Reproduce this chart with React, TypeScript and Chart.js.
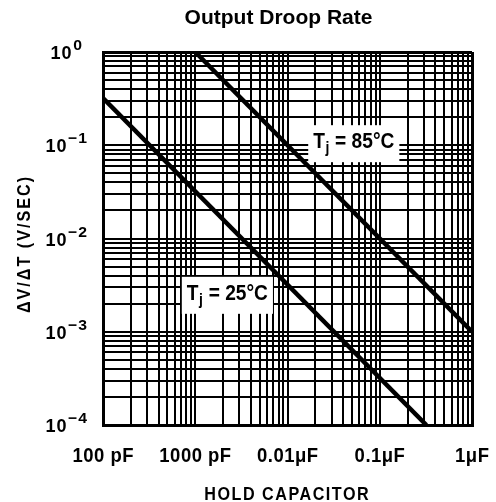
import React, { useEffect, useRef } from "react";
import { Chart, registerables } from "chart.js";

Chart.register(...registerables);

// ---- data ----
const capacitance25 = [1e-10, 3.2e-7]; // farads
const droop25 = [0.32, 1e-4]; // V/s
const capacitance85 = [1e-9, 1e-6];
const droop85 = [1, 1e-3];

const xTickValues = [1e-10, 1e-9, 1e-8, 1e-7, 1e-6];
const xTickLabels = ["100 pF", "1000 pF", "0.01μF", "0.1μF", "1μF"];
const yTickValues = [1, 0.1, 0.01, 0.001, 0.0001];
const yTickExponents = ["0", "−1", "−2", "−3", "−4"];
const gridMultipliers = [1, 2, 3, 4, 5, 6, 7, 8, 9];

const X_MIN = 1e-10;
const X_MAX = 1e-6;
const Y_MIN = 1e-4;
const Y_MAX = 1;

const SANS = '"Liberation Sans", Arial, sans-serif';

function gridTicks(values: number[]) {
  const sorted = [...values].sort((a, b) => a - b);
  const out: { value: number }[] = [];
  for (let i = 0; i < sorted.length - 1; i++) {
    for (const m of gridMultipliers) out.push({ value: m * sorted[i] });
  }
  out.push({ value: sorted[sorted.length - 1] });
  return out;
}

function measure(ctx: CanvasRenderingContext2D, text: string, size: number, scaleX: number, spacing = 0) {
  ctx.save();
  ctx.font = `bold ${size}px ${SANS}`;
  (ctx as any).letterSpacing = `${spacing / scaleX}px`;
  const w = ctx.measureText(text).width * scaleX - spacing;
  ctx.restore();
  return w;
}

function drawText(
  ctx: CanvasRenderingContext2D,
  text: string,
  x: number,
  y: number,
  size: number,
  scaleX: number,
  align: "left" | "center" | "right" = "left",
  spacing = 0
) {
  const w = measure(ctx, text, size, scaleX, spacing);
  const left = align === "center" ? x - w / 2 : align === "right" ? x - w : x;
  ctx.save();
  ctx.font = `bold ${size}px ${SANS}`;
  (ctx as any).letterSpacing = `${spacing / scaleX}px`;
  ctx.textAlign = "left";
  ctx.textBaseline = "alphabetic";
  ctx.translate(left, y);
  ctx.scale(scaleX, 1);
  ctx.fillText(text, 0, 0);
  ctx.restore();
  return w;
}

const labelPlugin = {
  id: "droopLabels",
  afterDraw(chart: any) {
    const ctx: CanvasRenderingContext2D = chart.ctx;
    const xs = chart.scales.x;
    const ys = chart.scales.y;
    const area = chart.chartArea;
    ctx.save();
    ctx.fillStyle = "#000";

    // title
    drawText(ctx, "Output Droop Rate", (area.left + area.right) / 2 - 9, 24, 21, 1, "center");

    // x tick labels
    xTickValues.forEach((v, i) => {
      drawText(ctx, xTickLabels[i], xs.getPixelForValue(v), area.bottom + 37, 21, 0.88, "center", 0.5);
    });

    // y tick labels
    yTickValues.forEach((v, i) => {
      const y = ys.getPixelForValue(v);
      const w1 = measure(ctx, "10", 19, 0.95, 1);
      const w2 = measure(ctx, yTickExponents[i], 15, 1.05, 1);
      const start = 66 - (w1 + w2 + 1) / 2;
      drawText(ctx, "10", start, y + 7, 19, 0.95, "left", 1);
      drawText(ctx, yTickExponents[i], start + w1 + 1.5, y - 2, 15, 1.05, "left", 1);
    });

    // axis titles
    drawText(ctx, "HOLD CAPACITOR", (area.left + area.right) / 2 - 1, 500, 19, 0.85, "center", 1.5);
    ctx.save();
    ctx.translate(30, 245);
    ctx.rotate(-Math.PI / 2);
    drawText(ctx, "ΔV/ΔT (V/SEC)", 0, 0, 19, 0.85, "center", 2);
    ctx.restore();

    // curve labels
    const drawLabel = (xv: number, yv: number, temp: string) => {
      const x0 = xs.getPixelForValue(xv);
      const base = ys.getPixelForValue(yv);
      const sx = 0.87;
      const wT = measure(ctx, "T", 22, sx);
      const wj = measure(ctx, "j", 16, sx);
      const rest = ` = ${temp}°C`;
      const wr = measure(ctx, rest, 22, sx);
      const total = wT + wj + wr + 1;
      ctx.fillStyle = "#fff";
      ctx.fillRect(x0 - 5, base - 23, total + 10, 37);
      ctx.fillStyle = "#000";
      drawText(ctx, "T", x0, base, 22, sx);
      drawText(ctx, "j", x0 + wT + 0.5, base + 5, 16, sx);
      drawText(ctx, rest, x0 + wT + wj + 1, base, 22, sx);
    };
    drawLabel(1.9e-8, 0.093, "85");
    drawLabel(8.1e-10, 2.2e-3, "25");

    ctx.restore();
  },
};

export default function App() {
  const ref = useRef<HTMLCanvasElement | null>(null);

  useEffect(() => {
    if (!ref.current) return;
    const gridWidth = (min: number, max: number) => (c: any) => {
      const v = c.tick ? c.tick.value : NaN;
      return v === min || v === max ? 3 : 2;
    };
    const chart = new Chart(ref.current, {
      type: "line",
      data: {
        datasets: [
          {
            label: "Tj = 25°C",
            data: capacitance25.map((x, i) => ({ x, y: droop25[i] })),
            borderColor: "#000",
            borderWidth: 4.5,
            pointRadius: 0,
            tension: 0,
          },
          {
            label: "Tj = 85°C",
            data: capacitance85.map((x, i) => ({ x, y: droop85[i] })),
            borderColor: "#000",
            borderWidth: 4.5,
            pointRadius: 0,
            tension: 0,
          },
        ],
      },
      options: {
        animation: false,
        responsive: false,
        maintainAspectRatio: false,
        layout: { padding: { top: 52, right: 24, left: 0, bottom: 0 } },
        plugins: {
          legend: { display: false },
          title: { display: false },
          tooltip: { enabled: false },
        },
        scales: {
          x: {
            type: "logarithmic",
            min: X_MIN,
            max: X_MAX,
            ticks: { display: false },
            grid: { color: "#000", lineWidth: gridWidth(X_MIN, X_MAX), drawTicks: false },
            border: { display: true, width: 3, color: "#000" },
            afterBuildTicks: (s: any) => {
              s.ticks = gridTicks(xTickValues);
            },
            afterFit: (s: any) => {
              s.height = 77;
            },
          },
          y: {
            type: "logarithmic",
            min: Y_MIN,
            max: Y_MAX,
            ticks: { display: false },
            grid: { color: "#000", lineWidth: gridWidth(Y_MIN, Y_MAX), drawTicks: false },
            border: { display: true, width: 3, color: "#000" },
            afterBuildTicks: (s: any) => {
              s.ticks = gridTicks(yTickValues);
            },
            afterFit: (s: any) => {
              s.width = 103;
            },
          },
        },
      } as any,
      plugins: [labelPlugin],
    });
    return () => chart.destroy();
  }, []);

  return (
    <div style={{ position: "fixed", left: 0, top: 0, width: 496, height: 502, background: "#fff" }}>
      <canvas ref={ref} width={496} height={502} style={{ display: "block" }} />
    </div>
  );
}
